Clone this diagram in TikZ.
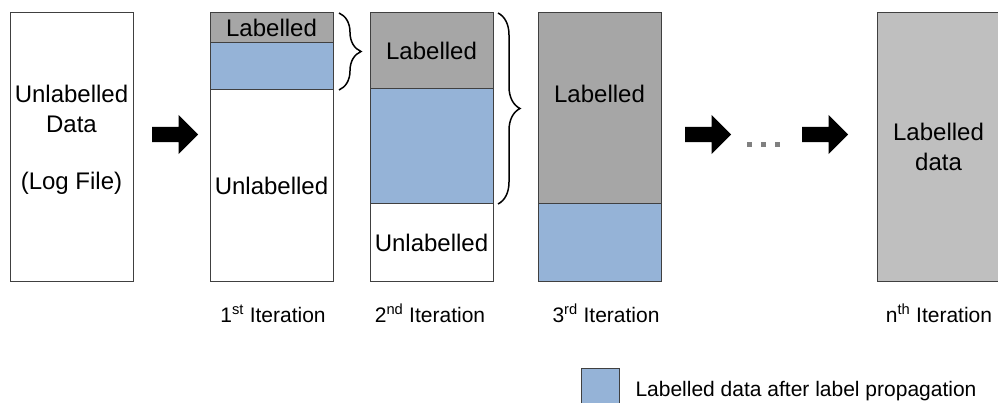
\documentclass[tikz,border=0pt]{standalone}
\usepackage{fontspec}
\setmainfont{Liberation Sans}
\usepackage{tikz}
\usetikzlibrary{positioning,shapes.arrows,decorations.pathreplacing}

\definecolor{oldgray}{HTML}{A6A6A6}
\definecolor{donegray}{HTML}{BFBFBF}
\definecolor{newblue}{HTML}{95B3D7}
\newcommand{\segfont}{\fontsize{24}{30}\selectfont}
\newcommand{\notefont}{\fontsize{21}{25}\selectfont}

\begin{document}
\begin{tikzpicture}[x=1pt, y=-1pt,
    seg/.style={draw=black!75, line width=1pt, minimum width=123, inner sep=0pt, outer sep=0pt, anchor=north west, font=\segfont},
    old/.style={seg, fill=oldgray},
    new/.style={seg, fill=newblue},
    blockarrow/.style={single arrow, fill=black, inner sep=0pt, inner ysep=7.5pt, minimum height=46, single arrow head extend=12pt, anchor=tail},
    brace/.style={decorate, decoration={brace, amplitude=22pt}, line width=1.5pt},
    dots/.style={gray, line width=5pt, dash pattern=on 5pt off 9pt},
    note/.style={font=\notefont, anchor=base}]

    \useasboundingbox (0,0) rectangle (998,403);

    % Raw data
    \node [seg, minimum height=268] (raw) at (10,13) {};
    \node [font=\segfont, align=center] (rawtxt) at (71.5,140) {Unlabelled\\Data\\[27pt](Log File)};

    % 1st iteration
    \node [old, minimum height=30]                    (it1lab) at (210,13) {Labelled};
    \node [new, minimum height=47, below=0pt of it1lab]  (it1new) {};
    \node [seg, minimum height=191, below=0pt of it1new] (it1un)  {Unlabelled};

    % 2nd iteration
    \node [old, minimum height=76]                    (it2lab) at (370,13) {Labelled};
    \node [new, minimum height=115, below=0pt of it2lab] (it2new) {};
    \node [seg, minimum height=77, below=0pt of it2new]  (it2un)  {Unlabelled};

    % 3rd iteration
    \node [old, minimum height=191]                   (it3lab) at (538,13) {};
    \node [new, minimum height=77, below=0pt of it3lab]  (it3new) {};
    \node [font=\segfont, anchor=base] (it3txt) at (599.5,103) {Labelled};

    % nth iteration
    \node [seg, fill=donegray, minimum height=268, align=center] (itn) at (877,13) {Labelled\\data};

    % Braces
    \draw [brace] ([xshift=6pt]it1lab.north east) -- ([xshift=6pt]it1new.south east);
    \draw [brace] ([xshift=5pt]it2lab.north east) -- ([xshift=5pt]it2new.south east);

    % Arrows
    \node [blockarrow] (go1) at (152,134.5) {};
    \node [blockarrow] (go2) at (685,134.5) {};
    \node [blockarrow] (go3) at (802,134.5) {};
    \coordinate (dotsl) at (747,144.5);
    \coordinate (dotsr) at (784,144.5);
    \draw [dots] (dotsl) -- (dotsr);

    % Captions
    \node [note] (cap1) at (273,322) {1\textsuperscript{st} Iteration};
    \node [note] (cap2) at (430,322) {2\textsuperscript{nd} Iteration};
    \node [note] (cap3) at (606,322) {3\textsuperscript{rd} Iteration};
    \node [note] (capn) at (939,322) {n\textsuperscript{th} Iteration};

    % Key
    \node [new, minimum width=38, minimum height=36] (key) at (581,368) {};
    \node [note, anchor=west] (keytxt) at (632,391) {Labelled data after label propagation};

\end{tikzpicture}
\end{document}
